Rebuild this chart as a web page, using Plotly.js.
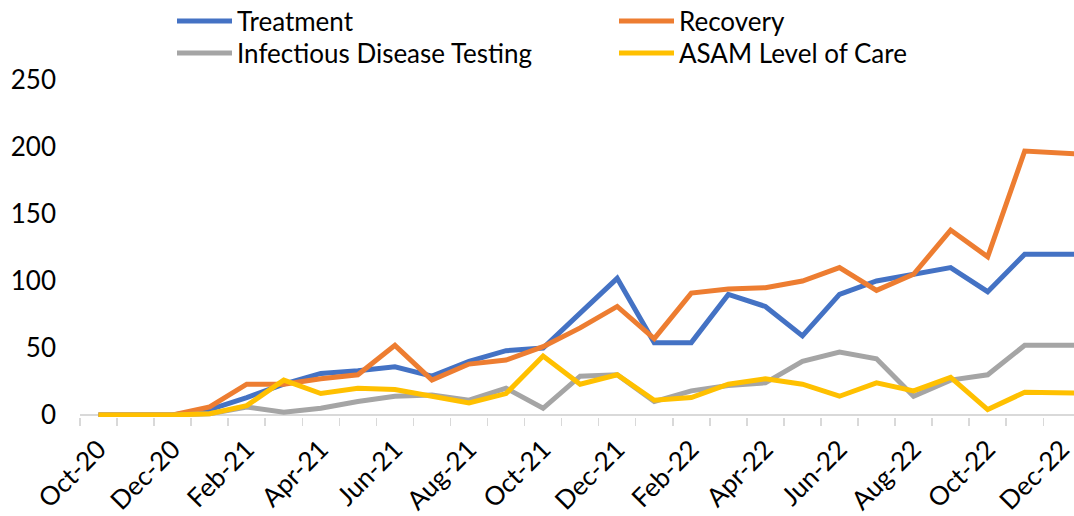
<!DOCTYPE html>
<html>
<head>
<meta charset="utf-8">
<script src="https://cdn.plot.ly/plotly-3.0.1.min.js"></script>
<style>html,body{margin:0;padding:0;background:#fff;}#chart{width:1074px;height:516px;}</style>
</head>
<body>
<div id="chart"></div>
<script>
const categories = ['Oct-20','Nov-20','Dec-20','Jan-21','Feb-21','Mar-21','Apr-21','May-21','Jun-21','Jul-21','Aug-21','Sep-21','Oct-21','Nov-21','Dec-21','Jan-22','Feb-22','Mar-22','Apr-22','May-22','Jun-22','Jul-22','Aug-22','Sep-22','Oct-22','Nov-22','Dec-22','Jan-23'];
const tickLabels = ['Oct-20','Dec-20','Feb-21','Apr-21','Jun-21','Aug-21','Oct-21','Dec-21','Feb-22','Apr-22','Jun-22','Aug-22','Oct-22','Dec-22'];
const treatment  = [0,0,0,4,13,23,31,33,36,29,40,48,50,76,102,54,54,90,81,59,90,100,105,110,92,120,120,120];
const recovery   = [0,0,0,6,23,23,27,30,52,26,38,41,51,65,81,57,91,94,95,100,110,93,105,138,118,197,195,194];
const infectious = [0,0,0,1,6,2,5,10,14,15,11,20,5,29,30,10,18,22,24,40,47,42,14,26,30,52,52,52];
const asam       = [0,0,0,1,7,26,16,20,19,14,9,16,44,23,30,11,13,23,27,23,14,24,18,28,4,17,17,16];

const idx = categories.map((c, i) => i);
const mk = (name, y, color, legend) => ({
  type: 'scatter', mode: 'lines', name: name, x: idx, y: y, legend: legend,
  line: {color: color, width: 5, shape: 'linear'}, hoverinfo: 'skip'
});
const data = [
  mk('Treatment', treatment, '#4472C4', 'legend'),
  mk('Recovery', recovery, '#ED7D31', 'legend'),
  mk('Infectious Disease Testing', infectious, '#A5A5A5', 'legend2'),
  mk('ASAM Level of Care', asam, '#FFC000', 'legend2')
];
const boundaries = categories.map((c, i) => i - 0.5);
const font = {family: 'Lato, "Open Sans", sans-serif', size: 26, color: '#000000'};
const legendBase = {
  orientation: 'h', xref: 'container', yref: 'paper',
  x: 172/1074, xanchor: 'left', yanchor: 'top',
  entrywidth: 372, entrywidthmode: 'pixels', itemwidth: 55,
  font: font, bgcolor: 'rgba(0,0,0,0)', traceorder: 'normal'
};
const layout = {
  width: 1074, height: 516,
  margin: {l: 79.5, r: 0, t: 79.5, b: 99, autoexpand: false},
  paper_bgcolor: '#ffffff', plot_bgcolor: '#ffffff',
  font: font,
  showlegend: true,
  legend: Object.assign({}, legendBase, {y: 1.2443}),
  legend2: Object.assign({}, legendBase, {y: 1.1495}),
  xaxis: {
    type: 'linear', range: [-0.5, 26.33],
    tickmode: 'array', tickvals: tickLabels.map(t => categories.indexOf(t)), ticktext: tickLabels,
    tickangle: -45, ticks: '', showgrid: false, zeroline: false, showline: false,
    tickfont: font, ticklabelstandoff: 11, ticklabeloverflow: 'allow',
    minor: {tickmode: 'array', tickvals: boundaries, ticks: 'outside', ticklen: 8, tickwidth: 1.5, tickcolor: '#d9d9d9', showgrid: false}
  },
  yaxis: {
    range: [-1.5, 250], tickmode: 'array', tickvals: [0,50,100,150,200,250],
    ticks: '', showgrid: false, showline: false,
    zeroline: true, zerolinecolor: '#d9d9d9', zerolinewidth: 1.5,
    tickfont: font, ticklabelstandoff: 23
  }
};
Plotly.newPlot('chart', data, layout, {staticPlot: true, displayModeBar: false});
</script>
</body>
</html>
